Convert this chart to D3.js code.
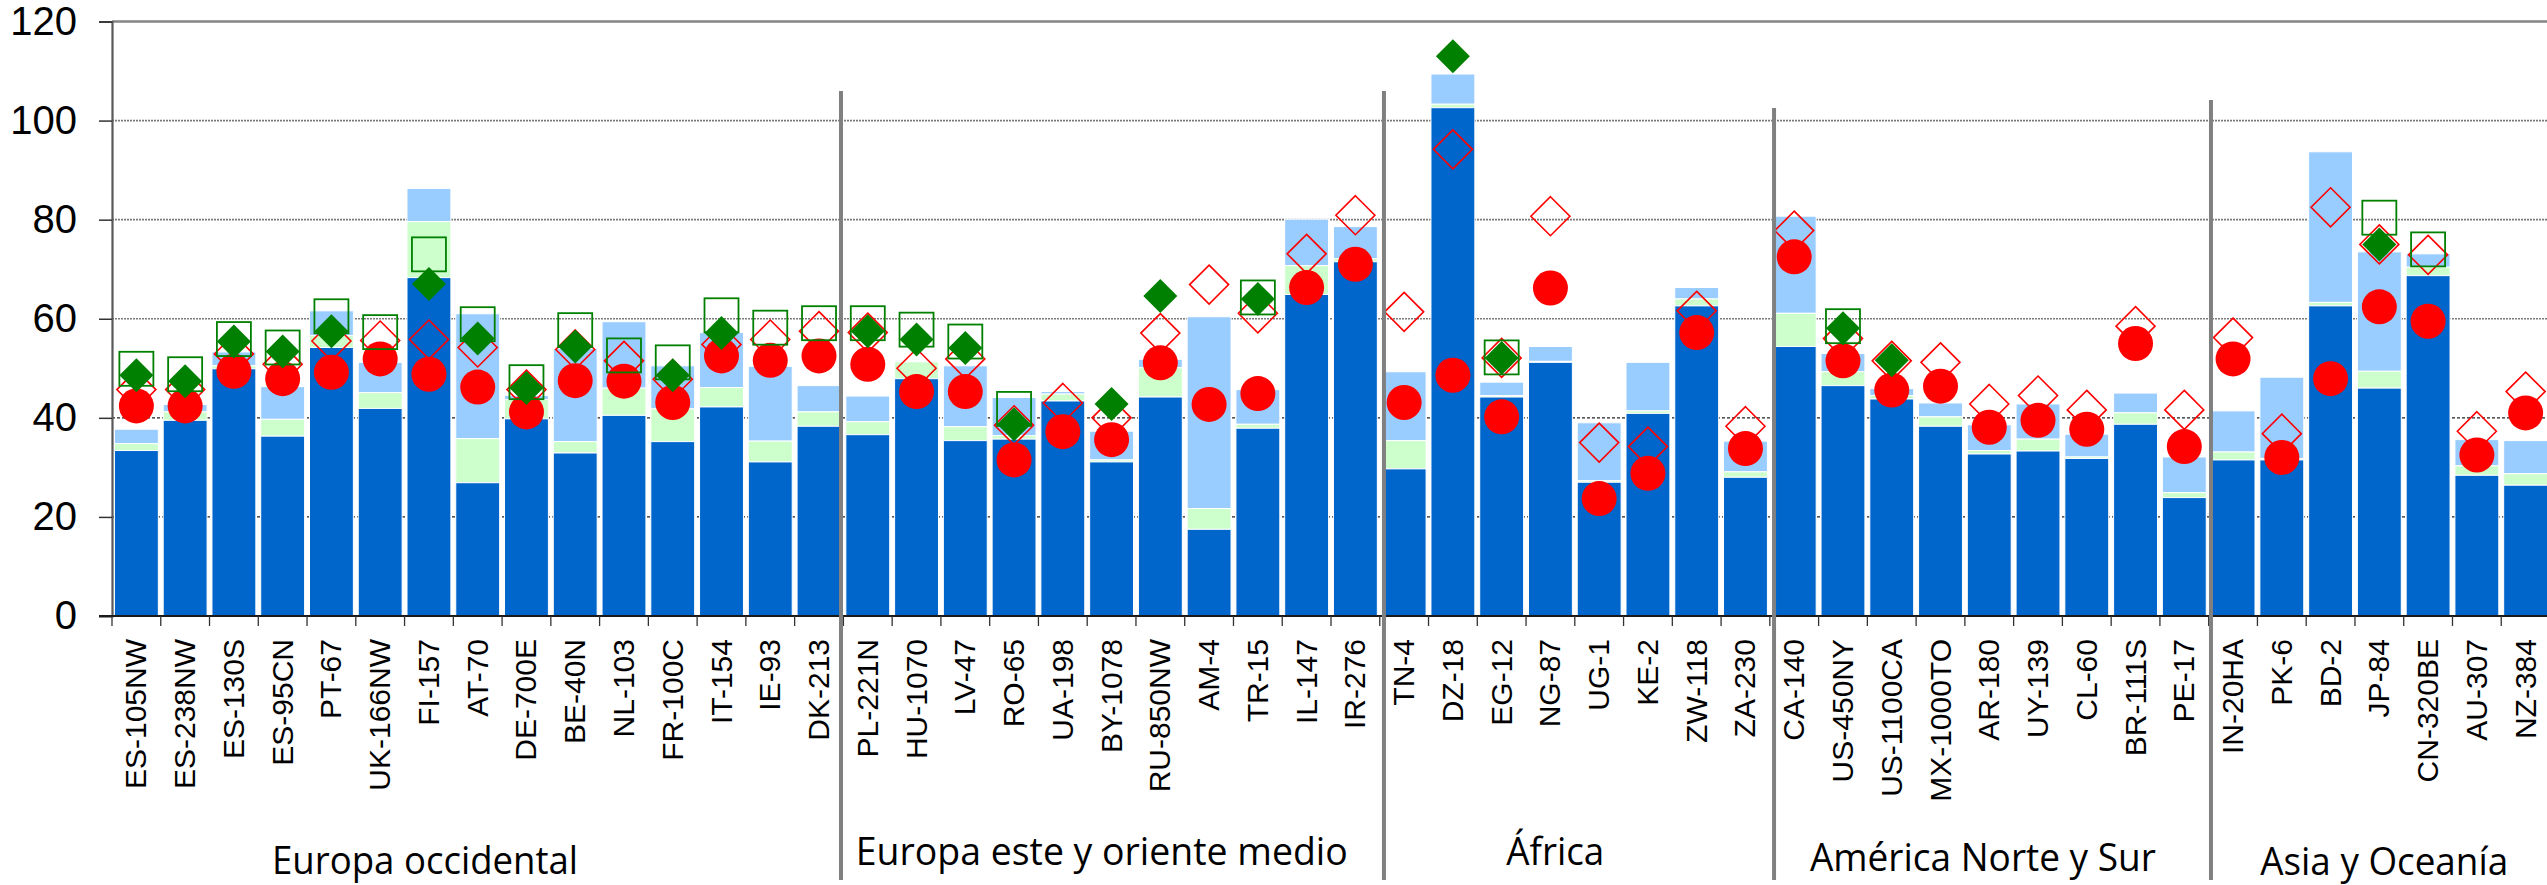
<!DOCTYPE html>
<html>
<head>
<meta charset="utf-8">
<script src="https://cdn.jsdelivr.net/npm/d3@7"></script>
<style>
  html, body { margin: 0; padding: 0; background: #fff; }
  svg { display: block; }
</style>
</head>
<body>
<svg id="chart" width="2547" height="885"></svg>
<script>
// ---------------- DATA ----------------
const categories = [
  "ES-105NW","ES-238NW","ES-130S","ES-95CN","PT-67","UK-166NW","FI-157","AT-70","DE-700E","BE-40N",
  "NL-103","FR-100C","IT-154","IE-93","DK-213",
  "PL-221N","HU-1070","LV-47","RO-65","UA-198","BY-1078","RU-850NW","AM-4","TR-15","IL-147","IR-276",
  "TN-4","DZ-18","EG-12","NG-87","UG-1","KE-2","ZW-118","ZA-230",
  "CA-140","US-450NY","US-1100CA","MX-1000TO","AR-180","UY-139","CL-60","BR-111S","PE-17",
  "IN-20HA","PK-6","BD-2","JP-84","CN-320BE","AU-307","NZ-384"
];

// stacked bar: cumulative tops of each segment
const darkTop = [33.4,39.5,49.9,36.3,54.2,41.9,68.3,26.9,39.8,32.9,
  40.5,35.2,42.2,31.1,38.3,
  36.6,47.9,35.4,35.7,43.4,31.1,44.2,17.5,37.9,64.9,71.5,
  29.7,102.6,44.2,51.2,27.0,40.9,62.6,28.0,
  54.4,46.5,43.8,38.3,32.7,33.3,31.8,38.7,23.9,
  31.5,31.5,62.6,46.0,68.7,28.4,26.4];
const greenTop = [34.8,41.2,50.5,39.7,56.6,45.1,79.6,35.8,43.7,35.2,
  46.0,41.8,46.1,35.3,41.2,
  39.2,51.3,38.2,36.4,44.8,31.5,50.1,21.7,38.7,70.7,72.1,
  35.4,103.3,44.5,51.4,27.3,41.4,64.0,29.1,
  61.1,49.3,44.5,40.2,33.4,35.7,32.1,41.0,24.9,
  33.1,31.8,63.3,49.4,70.4,30.3,28.7];
const blueTop = [37.7,42.7,53.3,46.3,61.6,51.2,86.3,61.0,44.5,54.0,
  59.4,50.5,57.2,50.4,46.5,
  44.4,51.3,50.5,44.1,45.3,37.3,51.8,60.4,45.7,80.1,78.6,
  49.3,109.4,47.2,54.4,39.0,51.2,66.3,35.3,
  80.7,53.0,45.9,43.0,38.6,42.8,36.7,45.0,32.1,
  41.4,48.2,93.7,73.5,73.1,35.6,35.4];

const redCircle = [42.4,42.4,49.4,47.9,49.2,51.9,48.8,46.2,41.2,47.5,
  47.4,43.1,52.5,51.6,52.5,
  50.8,45.3,45.3,31.5,37.2,35.6,51.1,42.7,44.9,66.3,71.0,
  43.1,48.6,40.2,66.2,23.7,28.8,57.2,33.8,
  72.5,51.5,45.6,46.4,38.1,39.5,37.7,55.0,34.2,
  51.9,32.0,47.9,62.4,59.5,32.5,41.0];
const redDiamondOpen = [45.7,45.7,52.9,50.8,55.5,55.6,55.8,54.2,45.7,53.8,
  51.5,47.8,54.8,55.8,57.5,
  57.2,50.0,51.9,38.5,43.0,40.0,57.1,66.9,61.1,73.1,80.9,
  61.4,94.2,52.1,80.7,35.0,34.2,61.6,38.3,
  77.8,56.0,51.5,51.2,42.8,44.5,41.6,58.5,41.6,
  56.2,36.8,82.5,75.0,72.9,37.3,45.3];
const greenDiamond = [48.6,47.4,55.4,53.4,57.5,null,67.0,56.0,46.0,54.4,
  null,48.6,57.1,null,null,
  57.5,55.8,54.1,38.7,null,42.8,64.6,null,64.0,null,null,
  null,113.0,52.1,null,null,null,null,null,
  null,58.1,51.6,null,null,null,null,null,null,
  null,null,null,75.0,null,null,null];
const greenSquareOpen = [49.9,48.8,55.9,54.2,60.5,57.3,73.0,58.9,47.2,57.7,
  52.6,51.2,60.7,58.2,59.1,
  59.1,57.8,55.4,41.8,null,null,null,null,64.3,null,null,
  null,null,52.2,null,null,null,null,null,
  null,58.5,null,null,null,null,null,null,null,
  null,null,null,80.4,74.0,null,null];

const yTicks = [0,20,40,60,80,100,120];
const groupNames = ["Europa occidental","Europa este y oriente medio","África","América Norte y Sur","Asia y Oceanía"];
const groupSizes = [15,11,8,9,7];

// ---------------- LAYOUT ----------------
const W = 2547, H = 885;
const X0 = 112, X1 = 2550, Y0 = 616, Y1 = 21.5;
const groupLabelLayout = [ // center (in band units), baseline y, text length px
  {c: 6.42, y: 874, len: 306},
  {c: 20.3, y: 865, len: 492},
  {c: 29.6, y: 865, len: 98},
  {c: 38.37, y: 871, len: 346},
  {c: 46.6, y: 875, len: 248}
];
const sepLayout = [ {dx: -2.4, top: 91}, {dx: 4.2, top: 91}, {dx: 4.2, top: 108}, {dx: 2.3, top: 100} ];

const svg = d3.select("#chart");
const x = d3.scaleBand().domain(categories).range([X0, X1]).paddingInner(0.1).paddingOuter(0.05);
const y = d3.scaleLinear().domain([0, 120]).range([Y0, Y1]);
const step = x.step();
const cx = d => x(d) + x.bandwidth() / 2;
const boundary = i => X0 + i * step;

// gridlines
const grid = svg.append("g");
[20, 40, 60, 80, 100].forEach(v => {
  const dark = v <= 40;
  grid.append("line")
    .attr("x1", X0).attr("x2", W)
    .attr("y1", y(v)).attr("y2", y(v))
    .attr("stroke", dark ? "#222" : "#7a7a7a")
    .attr("stroke-width", dark ? 1.2 : 1.6)
    .attr("stroke-dasharray", dark ? "3,2" : "2,1");
});

// bars
const rows = categories.map((c, i) => ({c, s: [[0, darkTop[i]], [darkTop[i], greenTop[i]], [greenTop[i], blueTop[i]]]}));
const segColors = ["#0066CC", "#CCFFCC", "#99CCFF"];
const barG = svg.append("g");
[2, 1, 0].forEach(k => {
  barG.selectAll(null).data(rows.filter(r => r.s[k][1] > r.s[k][0])).enter()
    .append("rect")
    .attr("x", d => x(d.c))
    .attr("width", x.bandwidth())
    .attr("y", d => y(d.s[k][1]))
    .attr("height", d => y(d.s[k][0]) - y(d.s[k][1]))
    .attr("fill", segColors[k])
    .attr("stroke", "#fff")
    .attr("stroke-width", 1);
});

// markers
const diamondPath = r => `M0,${-r}L${r},0L0,${r}L${-r},0Z`;
const mk = svg.append("g");
mk.selectAll(null).data(categories.map((c, i) => ({c, v: redDiamondOpen[i]})).filter(d => d.v != null))
  .enter().append("path")
  .attr("d", diamondPath(19.5))
  .attr("transform", d => `translate(${cx(d.c)},${y(d.v)})`)
  .attr("fill", "none").attr("stroke", "#FF0000").attr("stroke-width", 1.6);
mk.selectAll(null).data(categories.map((c, i) => ({c, v: redCircle[i]})).filter(d => d.v != null))
  .enter().append("circle")
  .attr("cx", d => cx(d.c)).attr("cy", d => y(d.v)).attr("r", 17.5)
  .attr("fill", "#FF0000");
mk.selectAll(null).data(categories.map((c, i) => ({c, v: greenSquareOpen[i]})).filter(d => d.v != null))
  .enter().append("rect")
  .attr("x", d => cx(d.c) - 17).attr("y", d => y(d.v) - 17)
  .attr("width", 34).attr("height", 34)
  .attr("fill", "none").attr("stroke", "#008000").attr("stroke-width", 1.8);
mk.selectAll(null).data(categories.map((c, i) => ({c, v: greenDiamond[i]})).filter(d => d.v != null))
  .enter().append("path")
  .attr("d", diamondPath(17))
  .attr("transform", d => `translate(${cx(d.c)},${y(d.v)})`)
  .attr("fill", "#008000");

// top border line (120)
svg.append("line").attr("x1", X0).attr("x2", W).attr("y1", y(120)).attr("y2", y(120))
  .attr("stroke", "#858585").attr("stroke-width", 2.5);

// y axis
const yAxis = d3.axisLeft(y).tickValues(yTicks).tickSize(13).tickPadding(22).tickFormat(d3.format("d"));
const ya = svg.append("g").attr("transform", `translate(${X0},0)`).call(yAxis);
ya.select(".domain").attr("stroke", "#595959").attr("stroke-width", 2.2);
ya.selectAll(".tick line").attr("stroke", "#333").attr("stroke-width", 1.5);
ya.selectAll(".tick text")
  .attr("font-family", "'Liberation Sans', Arial, sans-serif")
  .attr("font-size", 40).attr("fill", "#000");

// x axis line + ticks
svg.append("line").attr("x1", 99).attr("x2", W).attr("y1", Y0).attr("y2", Y0)
  .attr("stroke", "#1a1a1a").attr("stroke-width", 2);
svg.append("g").selectAll("line").data(d3.range(categories.length + 1)).enter().append("line")
  .attr("x1", i => boundary(i)).attr("x2", i => boundary(i))
  .attr("y1", Y0).attr("y2", Y0 + 10)
  .attr("stroke", "#333").attr("stroke-width", 1.3);

// category labels
svg.append("g").selectAll("text").data(categories).enter().append("text")
  .attr("transform", d => `translate(${cx(d) + 10},${639}) rotate(-90)`)
  .attr("text-anchor", "end")
  .attr("font-family", "'Liberation Sans', Arial, sans-serif")
  .attr("font-size", 30)
  .attr("fill", "#000")
  .text(d => d);

// group separators
let acc = 0;
const sepIdx = [];
groupSizes.slice(0, -1).forEach(s => { acc += s; sepIdx.push(acc); });
svg.append("g").selectAll("line").data(sepIdx).enter().append("line")
  .attr("x1", (d, i) => boundary(d) + sepLayout[i].dx)
  .attr("x2", (d, i) => boundary(d) + sepLayout[i].dx)
  .attr("y1", (d, i) => sepLayout[i].top)
  .attr("y2", 880)
  .attr("stroke", "#808080").attr("stroke-width", 4);

// group labels
svg.append("g").selectAll("text").data(groupNames).enter().append("text")
  .attr("x", (d, i) => X0 + groupLabelLayout[i].c * step)
  .attr("y", (d, i) => groupLabelLayout[i].y)
  .attr("text-anchor", "middle")
  .attr("font-family", "'Open Sans', 'Noto Sans', sans-serif")
  .attr("font-size", 38)
  .attr("textLength", (d, i) => groupLabelLayout[i].len)
  .attr("lengthAdjust", "spacingAndGlyphs")
  .attr("fill", "#000")
  .text(d => d);
</script>
</body>
</html>
